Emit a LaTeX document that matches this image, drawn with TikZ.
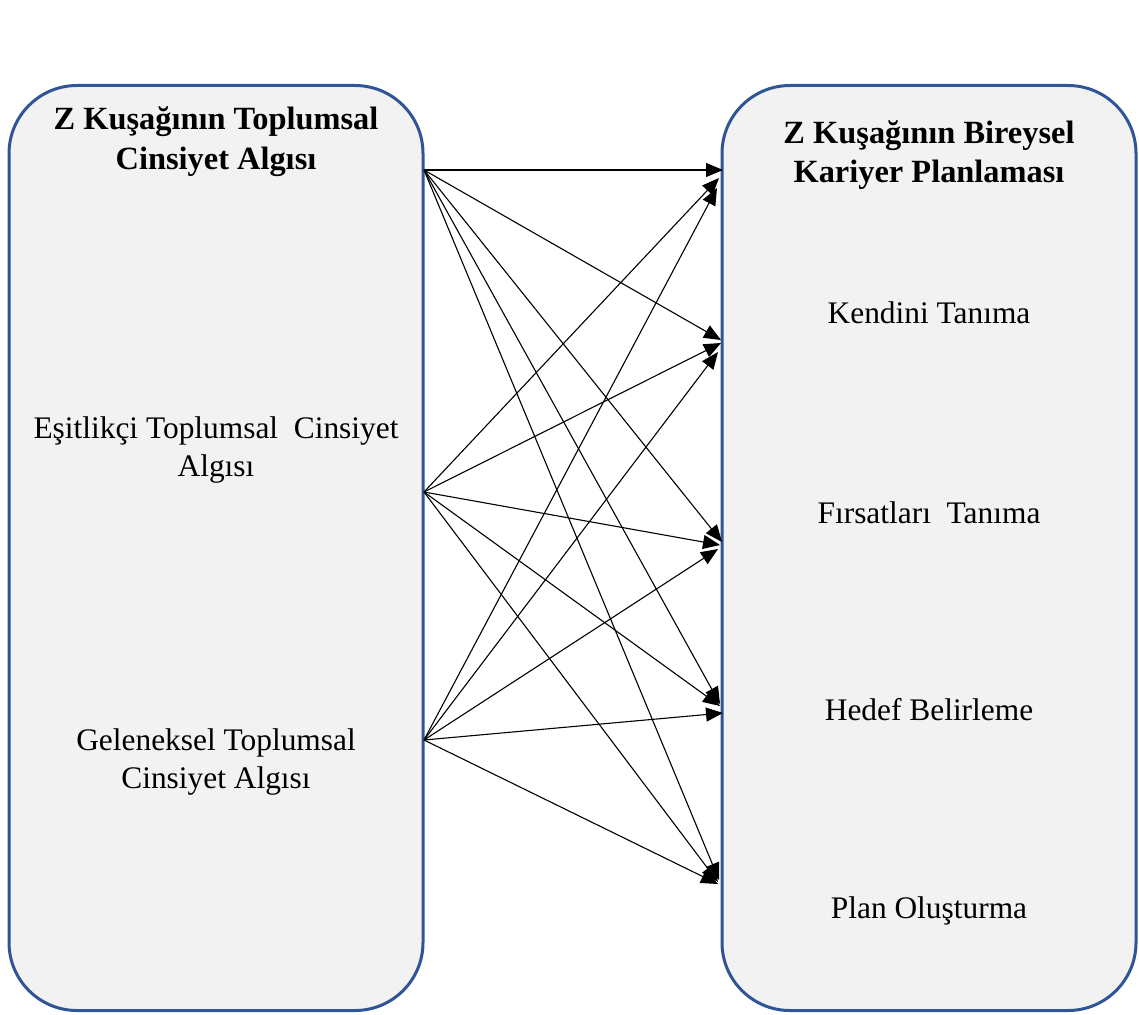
\documentclass[tikz,border=0pt]{standalone}
\usepackage{fontspec}
\setmainfont{Liberation Serif}
\usetikzlibrary{arrows.meta}
\definecolor{boxblue}{RGB}{47,85,151}
\definecolor{boxfill}{RGB}{242,242,242}
\begin{document}
\begin{tikzpicture}[x=1pt,y=-1pt,
  panel/.style={draw=boxblue,line width=3pt,fill=boxfill,rounded corners=68pt,
    minimum width=414pt,minimum height=925pt,inner sep=0pt},
  titletxt/.style={font=\fontsize{32.4}{40}\selectfont\bfseries,anchor=base,inner sep=0pt},
  bodytxt/.style={font=\fontsize{31.4}{38}\selectfont,anchor=base,inner sep=0pt},
  link/.style={line width=1.1pt,-{Triangle[length=17pt,width=14pt]}}]
\useasboundingbox (0,0) rectangle (1139,1014);
% panels
\node[panel] (L) at (216,548) {};
\node[panel] (R) at (929,548) {};
% texts
\node[titletxt] (lt1) at (216,129) {Z Kuşağının Toplumsal};
\node[titletxt] (lt2) at (216,169) {Cinsiyet Algısı};
\node[titletxt] (rt1) at (929,143) {Z Kuşağının Bireysel};
\node[titletxt] (rt2) at (929,182) {Kariyer Planlaması};
\node[bodytxt] (e1) at (216,438) {Eşitlikçi Toplumsal\ \ Cinsiyet};
\node[bodytxt] (e2) at (216,476) {Algısı};
\node[bodytxt] (g1) at (216,750) {Geleneksel Toplumsal};
\node[bodytxt] (g2) at (216,788) {Cinsiyet Algısı};
\node[bodytxt] (k) at (929,323) {Kendini Tanıma};
\node[bodytxt] (f) at (929,523) {Fırsatları\ \ Tanıma};
\node[bodytxt] (h) at (929,720) {Hedef Belirleme};
\node[bodytxt] (p) at (929,918) {Plan Oluşturma};
% sources
\coordinate (s1) at (424,170);
\coordinate (s2) at (424,492);
\coordinate (s3) at (424,740);
% targets
\coordinate (a1) at (723,170);
\coordinate (a2) at (721,340);
\coordinate (a3) at (722,542);
\coordinate (a4) at (720,704);
\coordinate (a5) at (719,880);
\coordinate (b1) at (719,178);
\coordinate (b2) at (721,343);
\coordinate (b3) at (720,545);
\coordinate (b4) at (720,706);
\coordinate (b5) at (718,882);
\coordinate (c1) at (717,188);
\coordinate (c2) at (718,352);
\coordinate (c3) at (718,549);
\coordinate (c4) at (723,713);
\coordinate (c5) at (718,884);
\foreach \t in {a1,a2,a3,a4,a5} \draw[link] (s1) -- (\t);
\foreach \t in {b1,b2,b3,b4,b5} \draw[link] (s2) -- (\t);
\foreach \t in {c1,c2,c3,c4,c5} \draw[link] (s3) -- (\t);
\end{tikzpicture}
\end{document}
